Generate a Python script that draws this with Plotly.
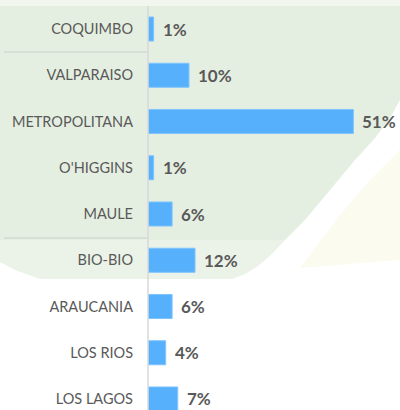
import plotly.graph_objects as go

# ---- data ----
regions = ["COQUIMBO", "VALPARAISO", "METROPOLITANA", "O'HIGGINS", "MAULE",
           "BIO-BIO", "ARAUCANIA", "LOS RIOS", "LOS LAGOS"]
shares = [1.4, 10.2, 51.1, 1.4, 6.0, 11.7, 6.0, 4.4, 7.4]
share_labels = ["1%", "10%", "51%", "1%", "6%", "12%", "6%", "4%", "7%"]

# ---- layout helpers (pixel -> paper) ----
W, H = 400, 410
L = 148


def px(x):
    return (x - L) / (W - L)


def py(y):
    return 1 - y / H


def path(points):
    return "M " + " L ".join(f"{px(x):.4f},{py(y):.4f}" for x, y in points) + " Z"


fig = go.Figure(
    go.Bar(
        x=shares,
        y=regions,
        orientation="h",
        width=0.52,
        marker=dict(color="#56b0fc", line=dict(color="#7fc4ff", width=1)),
        hoverinfo="skip",
    )
)

for v, r, t in zip(shares, regions, share_labels):
    fig.add_annotation(
        x=v, y=r, xref="x", yref="y", text=t, showarrow=False,
        xanchor="left", yanchor="middle", xshift=7,
        font=dict(family="Lato", size=17, color="#595959", weight="bold"),
    )

shapes = [
    dict(type="path", xref="paper", yref="paper", layer="below",
         path=path([(0, 6), (400, 6), (400, 100), (390, 118), (375, 138),
                    (355, 160), (330, 190), (305, 220), (285, 240), (0, 240)]),
         fillcolor="#e5efe1", line=dict(width=0)),
    dict(type="path", xref="paper", yref="paper", layer="below",
         path=path([(0, 240), (285, 240), (272, 254), (258, 266), (245, 274),
                    (232, 279), (40, 279), (15, 270), (0, 262)]),
         fillcolor="#ebf3e8", line=dict(width=0)),
    dict(type="path", xref="paper", yref="paper", layer="below",
         path=path([(0, 0), (400, 0), (400, 6), (0, 6)]),
         fillcolor="#f1f6ef", line=dict(width=0)),
    dict(type="path", xref="paper", yref="paper", layer="below",
         path=path([(400, 150), (400, 260), (300, 268), (340, 215), (370, 180)]),
         fillcolor="#fbfcef", line=dict(width=0)),
    dict(type="line", xref="paper", yref="paper", layer="below",
         x0=px(4), x1=px(148), y0=py(52), y1=py(52),
         line=dict(color="#d3dbd0", width=1.5)),
    dict(type="line", xref="paper", yref="paper", layer="below",
         x0=px(4), x1=px(148), y0=py(238), y1=py(238),
         line=dict(color="#d3dbd0", width=1.5)),
    dict(type="line", xref="paper", yref="paper", layer="above",
         x0=px(148), x1=px(148), y0=py(6), y1=py(410),
         line=dict(color="#d9d9d9", width=1.5)),
]

fig.update_layout(
    width=W, height=H,
    margin=dict(l=L, r=0, t=0, b=0),
    paper_bgcolor="white",
    plot_bgcolor="rgba(0,0,0,0)",
    showlegend=False,
    shapes=shapes,
    xaxis=dict(range=[0, 62.7], visible=False, showgrid=False, zeroline=False),
    yaxis=dict(
        categoryorder="array", categoryarray=regions,
        range=[8.238, -0.627],
        showgrid=False, zeroline=False, showline=False,
        ticks="", ticklabelstandoff=14,
        tickfont=dict(family="Lato", size=14.5, color="#595959"),
    ),
)

fig.write_html("out.html", config={"displayModeBar": False},
               post_script="document.body.style.margin='0';")
